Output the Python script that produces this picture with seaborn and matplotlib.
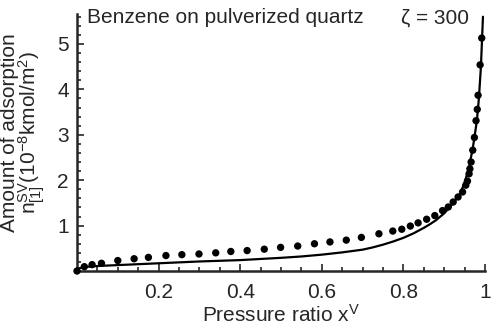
import seaborn as sns
import matplotlib.pyplot as plt
from matplotlib.ticker import MultipleLocator, FixedLocator
import pandas as pd

# measured points (pressure ratio, amount adsorbed)
x_meas = [0.0, 0.018, 0.037, 0.06, 0.10, 0.14, 0.175, 0.218, 0.257, 0.299, 0.34, 0.377,
          0.417, 0.459, 0.499, 0.541, 0.582, 0.62, 0.66, 0.697, 0.74, 0.774, 0.796,
          0.817, 0.836, 0.857, 0.877, 0.896, 0.91, 0.922, 0.934, 0.945, 0.953, 0.957,
          0.961, 0.963, 0.966, 0.97, 0.974, 0.978, 0.981, 0.983, 0.988, 0.992]
y_meas = [0.0, 0.095, 0.14, 0.17, 0.23, 0.27, 0.30, 0.34, 0.36, 0.375, 0.40, 0.43,
          0.45, 0.48, 0.52, 0.55, 0.60, 0.64, 0.68, 0.74, 0.82, 0.88, 0.92,
          0.99, 1.06, 1.14, 1.22, 1.33, 1.41, 1.52, 1.63, 1.74, 1.89, 1.98,
          2.14, 2.25, 2.40, 2.66, 2.94, 3.31, 3.56, 3.87, 4.54, 5.13]

# model curve
x_fit = [0, 0.005, 0.02, 0.05, 0.1, 0.2, 0.3, 0.4, 0.5, 0.55, 0.6, 0.65, 0.7, 0.725,
         0.75, 0.775, 0.8, 0.825, 0.85, 0.865, 0.88, 0.9, 0.92, 0.94, 0.95, 0.96,
         0.97, 0.98, 0.985, 0.99, 0.995]
y_fit = [0, 0.06, 0.09, 0.11, 0.13, 0.17, 0.21, 0.24, 0.29, 0.32, 0.36, 0.41, 0.47, 0.52,
         0.58, 0.65, 0.73, 0.83, 0.95, 1.03, 1.12, 1.27, 1.47, 1.72, 1.95, 2.25,
         2.7, 3.3, 3.8, 4.5, 5.6]

meas = pd.DataFrame({'x': x_meas, 'n': y_meas})
fit = pd.DataFrame({'x': x_fit, 'n': y_fit})

sns.set_style('ticks')
plt.rcParams['font.family'] = ['Liberation Sans', 'DejaVu Sans']
plt.rcParams['mathtext.fontset'] = 'custom'
plt.rcParams['mathtext.rm'] = 'Liberation Sans'
plt.rcParams['mathtext.it'] = 'Liberation Sans'

fs = 15

fig = plt.figure(figsize=(4.94, 3.28), dpi=100)
ax = fig.add_axes([77 / 494, 57 / 328, 408 / 494, 257 / 328])

sns.lineplot(data=fit, x='x', y='n', color='black', linewidth=1.6, ax=ax, sort=False)
sns.scatterplot(data=meas, x='x', y='n', color='black', s=28, edgecolor='none', ax=ax,
                clip_on=False, zorder=3)

ax.set_xlim(0, 1.0)
ax.set_ylim(0, 5.66)
ax.xaxis.set_major_locator(FixedLocator([0.2, 0.4, 0.6, 0.8, 1.0]))
ax.xaxis.set_minor_locator(MultipleLocator(0.05))
ax.yaxis.set_major_locator(FixedLocator([1, 2, 3, 4, 5]))
ax.yaxis.set_minor_locator(MultipleLocator(0.2))
ax.set_xticklabels(['0.2', '0.4', '0.6', '0.8', '1'])
ax.tick_params(which='both', direction='in', width=1.2, labelsize=fs)
ax.tick_params(axis='x', which='major', length=5, pad=9)
ax.tick_params(axis='y', which='major', length=5, pad=6)
ax.tick_params(which='minor', length=3)
for side in ['top', 'right']:
    ax.spines[side].set_visible(False)
for side in ['left', 'bottom']:
    ax.spines[side].set_linewidth(1.8)

ax.set_xlabel(r'Pressure ratio x$^{\mathregular{V}}$', fontsize=fs, labelpad=1)
ax.set_ylabel('Amount of adsorption\n' + r'n$^{\mathregular{SV}}_{\mathregular{[1]}}$(10$^{-8}$kmol/m$^{2}$)',
              fontsize=fs, linespacing=0.9)
ax.yaxis.set_label_coords(-0.073, 0.54)

ax.text(0.025, 0.985, 'Benzene on pulverized quartz', transform=ax.transAxes,
        fontsize=fs, ha='left', va='center')
ax.text(0.96, 0.985, 'ζ = 300', transform=ax.transAxes, fontsize=fs,
        ha='right', va='center')

fig.savefig('out.png', dpi=100)
